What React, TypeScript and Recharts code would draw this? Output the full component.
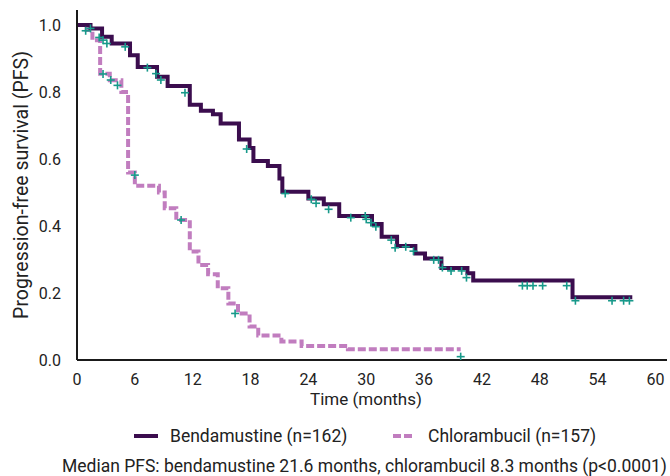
import { ComposedChart, Line, Scatter, XAxis, YAxis } from "recharts"

const bendaTime = [0, 1.4, 2.6, 3.6, 5.5, 6.3, 8.3, 9.4, 11.7, 12.85, 14.1, 14.9, 16.8, 17.9, 18.3, 19.8, 21.0, 21.3, 24.0, 25.6, 27.2, 30.6, 31.6, 33.2, 35.1, 36.1, 37.8, 40.5, 41.1, 51.4, 57.6]
const bendaSurv = [1.0, 0.99, 0.965, 0.945, 0.91, 0.875, 0.846, 0.818, 0.762, 0.744, 0.734, 0.706, 0.658, 0.633, 0.594, 0.579, 0.542, 0.502, 0.482, 0.465, 0.43, 0.406, 0.368, 0.34, 0.318, 0.303, 0.275, 0.259, 0.237, 0.187, 0.187]

const chloTime = [0, 1.0, 1.6, 2.4, 3.4, 4.6, 5.3, 6.0, 8.5, 9.1, 10.3, 11.7, 12.6, 13.6, 14.6, 15.7, 16.7, 17.9, 18.8, 21.2, 23.3, 28.1, 39.8]
const chloSurv = [1.0, 0.985, 0.955, 0.855, 0.835, 0.8, 0.56, 0.52, 0.5, 0.453, 0.418, 0.324, 0.284, 0.256, 0.214, 0.169, 0.139, 0.1, 0.073, 0.055, 0.042, 0.032, 0.032]

const bendaCensorTime = [0.9, 1.4, 2.3, 2.7, 3.1, 5.0, 7.3, 8.2, 8.7, 11.2, 17.6, 21.6, 24.3, 24.8, 26.1, 28.4, 29.9, 30.0, 30.5, 31.0, 32.6, 33.0, 34.1, 34.9, 37.0, 37.5, 37.9, 38.8, 39.9, 40.4, 46.2, 46.7, 47.3, 48.3, 50.8, 51.7, 55.5, 56.7, 57.3]
const bendaCensorSurv = [0.983, 0.99, 0.963, 0.955, 0.945, 0.935, 0.873, 0.855, 0.836, 0.798, 0.63, 0.497, 0.48, 0.468, 0.45, 0.425, 0.43, 0.42, 0.41, 0.398, 0.358, 0.335, 0.338, 0.325, 0.299, 0.299, 0.276, 0.266, 0.266, 0.246, 0.222, 0.222, 0.222, 0.222, 0.222, 0.177, 0.177, 0.177, 0.177]

const chloCensorTime = [2.7, 3.5, 4.2, 6.0, 10.8, 16.4, 39.8]
const chloCensorSurv = [0.854, 0.836, 0.82, 0.552, 0.418, 0.139, 0.01]

const xTicks = [0, 6, 12, 18, 24, 30, 36, 42, 48, 54, 60]
const yTicks = [0, 0.2, 0.4, 0.6, 0.8, 1.0]

const toPoints = (ts: number[], ss: number[]) => ts.map((t, i) => ({ t, s: ss[i] }))

const benda = toPoints(bendaTime, bendaSurv)
const chlo = toPoints(chloTime, chloSurv)
const censors = [
  ...toPoints(bendaCensorTime, bendaCensorSurv),
  ...toPoints(chloCensorTime, chloCensorSurv),
]

const DARK = "#3b0d4e"
const PINK = "#c17dbf"
const TEAL = "#17998a"

function Plus(props: any) {
  const { cx, cy } = props
  if (cx == null || cy == null) return null
  return (
    <g stroke={TEAL} strokeWidth={1.6}>
      <line x1={cx - 4} x2={cx + 4} y1={cy} y2={cy} />
      <line x1={cx} x2={cx} y1={cy - 4} y2={cy + 4} />
    </g>
  )
}

export default function App() {
  const font = "Roboto, sans-serif"
  return (
    <div style={{ position: "absolute", left: 0, top: 0, width: 670, height: 476, fontFamily: font, color: "#222", background: "#fff" }}>
      <ComposedChart width={670} height={410} margin={{ top: 10, right: 3, left: 0, bottom: 0 }}>
        <XAxis
          type="number"
          dataKey="t"
          domain={[0, 61.2]}
          ticks={xTicks}
          allowDataOverflow
          tickLine={false}
          tickMargin={8}
          height={50}
          axisLine={{ stroke: "#1a1a1a", strokeWidth: 2 }}
          tick={{ fill: "#222", fontSize: 16 }}
        />
        <YAxis
          type="number"
          dataKey="s"
          domain={[0, 1.045]}
          ticks={yTicks}
          allowDataOverflow
          width={77}
          tickLine={false}
          tickMargin={10}
          tickFormatter={(v: number) => v.toFixed(1)}
          axisLine={{ stroke: "#1a1a1a", strokeWidth: 2 }}
          tick={{ fill: "#222", fontSize: 16 }}
          label={{ value: "Progression-free survival (PFS)", angle: -90, position: "insideLeft", offset: 21, style: { textAnchor: "middle", fill: "#222", fontSize: 19.5 } }}
        />
        <Line data={chlo} dataKey="s" type="stepAfter" stroke={PINK} strokeWidth={4} strokeDasharray="8 3" dot={false} isAnimationActive={false} />
        <Line data={benda} dataKey="s" type="stepAfter" stroke={DARK} strokeWidth={4} dot={false} isAnimationActive={false} />
        <Scatter data={censors} dataKey="s" shape={Plus} isAnimationActive={false} />
      </ComposedChart>
      <div style={{ position: "absolute", left: 0, width: 670, top: 390, lineHeight: "18px", textAlign: "center", paddingLeft: 62, boxSizing: "border-box", fontSize: 17 }}>
        Time (months)
      </div>
      <div style={{ position: "absolute", top: 426, left: 0, width: 670, height: 22, fontSize: 17.5, lineHeight: "20px" }}>
        <svg width={24} height={6} style={{ position: "absolute", left: 134, top: 7 }}>
          <line x1={0} x2={24} y1={3} y2={3} stroke={DARK} strokeWidth={4} />
        </svg>
        <span style={{ position: "absolute", left: 170, top: 0, whiteSpace: "nowrap" }}>Bendamustine (n=162)</span>
        <svg width={22} height={6} style={{ position: "absolute", left: 393, top: 7 }}>
          <line x1={0} x2={22} y1={3} y2={3} stroke={PINK} strokeWidth={4} strokeDasharray="8 3" />
        </svg>
        <span style={{ position: "absolute", left: 428, top: 0, whiteSpace: "nowrap" }}>Chlorambucil (n=157)</span>
      </div>
      <div style={{ position: "absolute", top: 456, left: 62, fontSize: 17.5, lineHeight: "20px", whiteSpace: "nowrap" }}>
        Median PFS: bendamustine 21.6 months, chlorambucil 8.3 months (p&lt;0.0001)
      </div>
    </div>
  )
}
